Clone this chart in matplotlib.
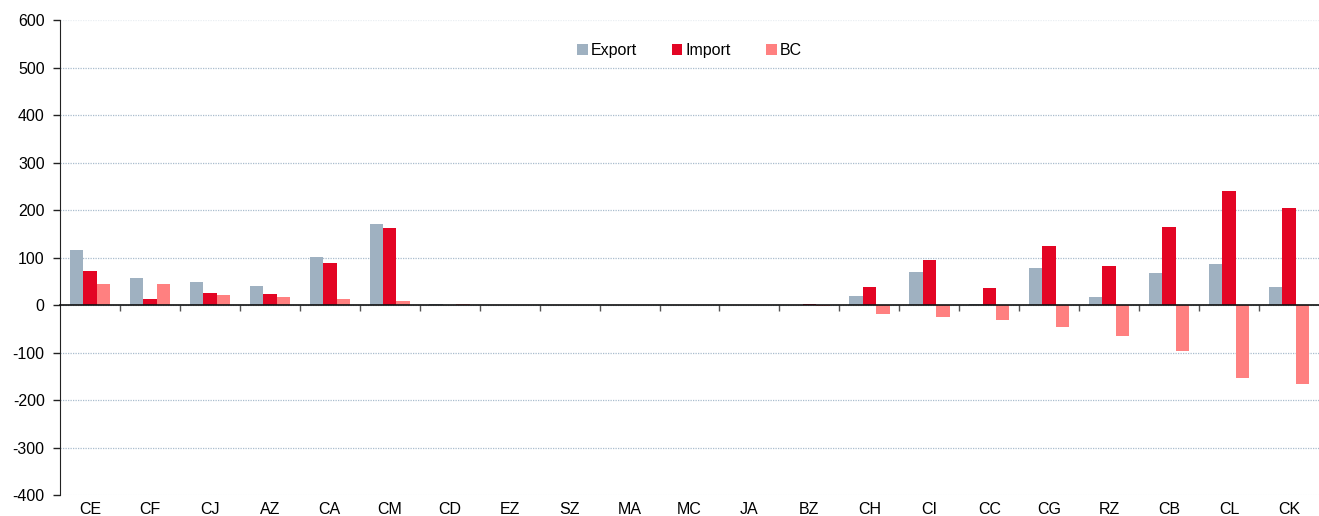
import matplotlib.pyplot as plt
import matplotlib.transforms as mtransforms
import numpy as np

plt.rcParams['font.family'] = ['Liberation Sans', 'DejaVu Sans']
plt.rcParams['axes.unicode_minus'] = False

# categorias i vrednosti (procitano sa slike)
kategorije = ['CE', 'CF', 'CJ', 'AZ', 'CA', 'CM', 'CD', 'EZ', 'SZ', 'MA', 'MC',
              'JA', 'BZ', 'CH', 'CI', 'CC', 'CG', 'RZ', 'CB', 'CL', 'CK']
export = [115.5, 57.4, 47.6, 39.9, 102, 171, 1.5, 0.8, 0, 0, 0,
          0, 0.5, 18.3, 69, 2.8, 77.5, 16.2, 67.6, 87.3, 37.3]
uvoz = [70.7, 13.3, 25.9, 23.8, 89, 162.5, 0.3, 0.5, 0, 0, 0,
        0.8, 3, 37.3, 95.8, 35.2, 124.6, 82.4, 164, 240.8, 204]
bc = [44.8, 43.4, 21.7, 17.5, 13.3, 8.4, 1.5, 0.4, 0, 0, 0,
      -0.8, -2.5, -19, -26, -31.7, -47, -65.5, -96.5, -152.8, -167]

boje = ['#9fb1c1', '#e30524', '#ff8080']

fig = plt.figure(figsize=(13.19, 5.16), dpi=100)
ax = fig.add_axes([0.0455, 0.0407, 0.9545, 0.9205])

x = np.arange(len(kategorije))
w = 0.225
ax.bar(x - w, export, w, color=boje[0], label='Export', zorder=3)
ax.bar(x, uvoz, w, color=boje[1], label='Import', zorder=3)
ax.bar(x + w, bc, w, color=boje[2], label='BC', zorder=3)

ax.set_xlim(-0.5, len(kategorije) - 0.5)
ax.set_ylim(-400, 600)
ax.set_yticks(range(-400, 601, 100))
ax.yaxis.grid(True, color='#a9bccd', linestyle=(0, (1, 1)), linewidth=0.9, zorder=0)
for g in ax.get_ygridlines()[:1] + ax.get_ygridlines()[-1:]:
    g.set_alpha(0.25)

ax.spines['top'].set_visible(False)
ax.spines['right'].set_visible(False)
ax.spines['left'].set_color('#222222')
ax.spines['bottom'].set_position(('data', 0))
ax.spines['bottom'].set_color('#111111')
ax.spines['bottom'].set_linewidth(1.2)
ax.spines['bottom'].set_zorder(4)

ax.set_xticks(np.arange(0.5, len(kategorije) - 0.5, 1))
ax.set_xticklabels([])
ax.tick_params(axis='x', direction='out', length=4, width=1, color='#555555')
ax.tick_params(axis='y', direction='out', length=5, width=1, color='#222222',
               labelsize=11.5, pad=6)

trans = mtransforms.blended_transform_factory(ax.transData, ax.transAxes)
for i, k in enumerate(kategorije):
    ax.text(x[i], -0.015, k, transform=trans, ha='center', va='top', fontsize=11.5)

ax.legend(loc='center', bbox_to_anchor=(0.5, 0.935), ncol=3, frameon=False,
          fontsize=11.5, handlelength=0.65, handleheight=0.65, handletextpad=0.2,
          columnspacing=2.2)

plt.savefig('out.png', dpi=100)
